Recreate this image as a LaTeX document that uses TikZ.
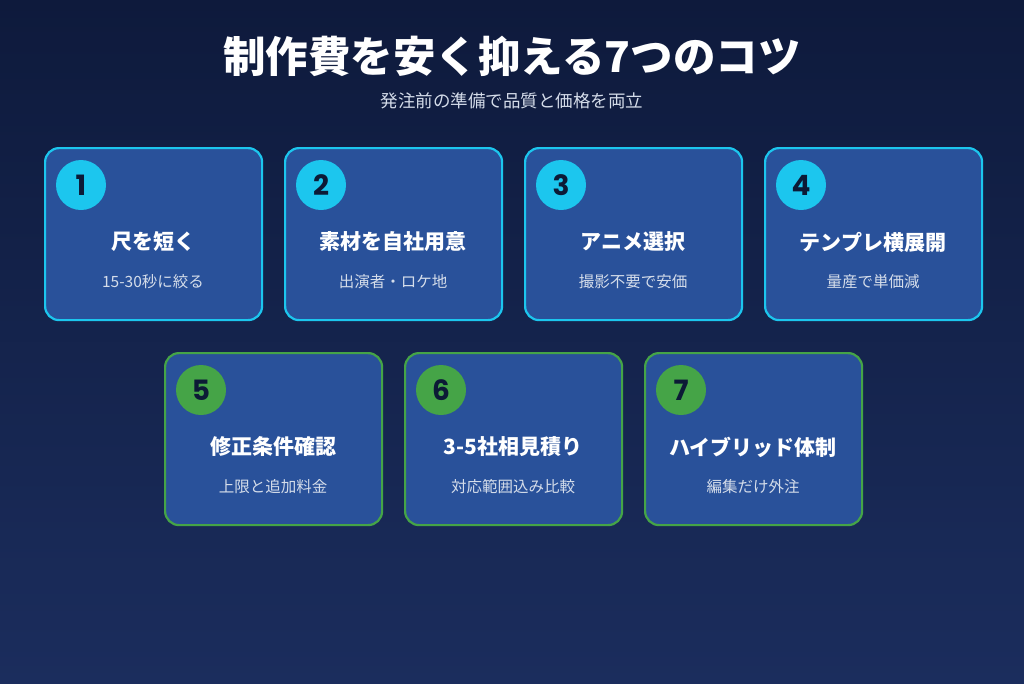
\documentclass[tikz,border=0pt]{standalone}
\usepackage{fontspec}
\setmainfont{Noto Sans CJK JP}
\newfontfamily\numfont{Poppins}
\definecolor{bgtop}{HTML}{0E1A3C}
\definecolor{bgbot}{HTML}{1B2D5D}
\definecolor{boxf}{HTML}{29519A}
\definecolor{cyanb}{HTML}{1CC6EE}
\definecolor{greenb}{HTML}{45A447}
\definecolor{numc}{HTML}{0C1A36}
\definecolor{subc}{HTML}{D5DDEA}
\tikzset{
 card/.style={draw=#1,line width=2.2pt,fill=boxf,rounded corners=14pt,minimum width=217pt,minimum height=172pt,inner sep=0pt,anchor=north west},
 num/.style={circle,fill=#1,minimum size=50pt,inner sep=0pt,text=numc,font=\numfont\bfseries\fontsize{28}{28}\selectfont},
 ttl/.style={text=white,font=\bfseries\fontsize{21}{21}\selectfont},
 sub/.style={text=subc,font=\fontsize{15.5}{15.5}\selectfont}
}
\begin{document}
\begin{tikzpicture}[x=1pt,y=-1pt]
\shade[top color=bgtop,bottom color=bgbot] (0,0) rectangle (1024,683);
\useasboundingbox (0,0) rectangle (1024,683);
\node[text=white,font=\bfseries\fontsize{42.5}{42.5}\selectfont] (title) at (512,56) {制作費を安く抑える7つのコツ};
\node[text=subc,font=\fontsize{17.5}{17.5}\selectfont] (subtitle) at (512,101) {発注前の準備で品質と価格を両立};
\foreach \i/\x/\y/\c/\t/\s in {
 1/44/147/cyanb/尺を短く/15-30秒に絞る,
 2/284/147/cyanb/素材を自社用意/出演者・ロケ地,
 3/524/147/cyanb/アニメ選択/撮影不要で安価,
 4/764/147/cyanb/テンプレ横展開/量産で単価減,
 5/164/352/greenb/修正条件確認/上限と追加料金,
 6/404/352/greenb/3-5社相見積り/対応範囲込み比較,
 7/644/352/greenb/ハイブリッド体制/編集だけ外注}{
 \node[card=\c] (card\i) at (\x,\y) {};
 \node[num=\c] (n\i) at (\x+37,\y+38) {\i};
 \node[ttl] (t\i) at (\x+109,\y+95) {\t};
 \node[sub] (s\i) at (\x+109,\y+135) {\s};
}
\end{tikzpicture}
\end{document}
